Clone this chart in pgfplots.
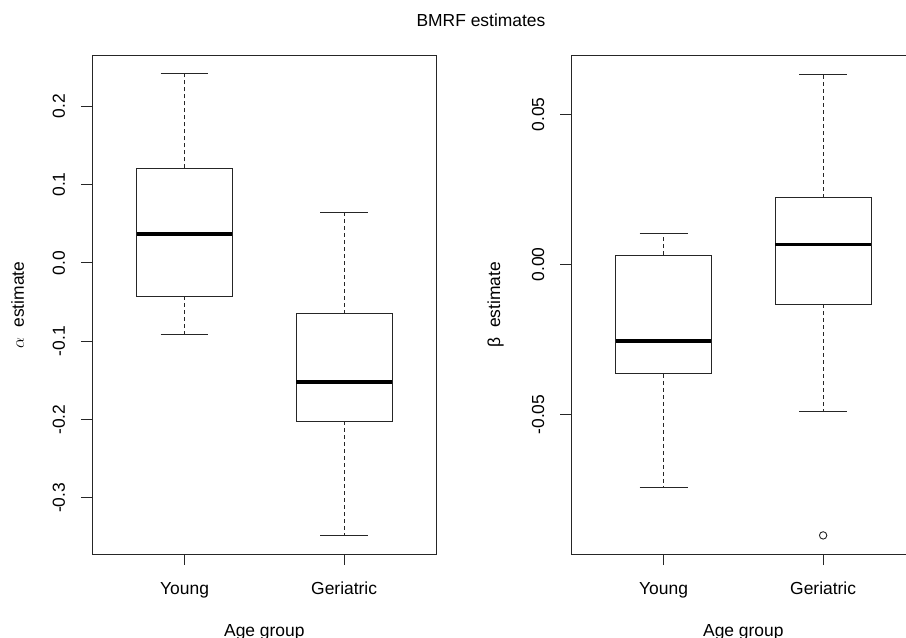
\documentclass[border=0pt]{standalone}
\usepackage{pgfplots}
\pgfplotsset{compat=1.18}
\usepackage{fontspec}
\setmainfont{Liberation Sans}
\newcommand{\rf}{\fontsize{17.5}{21}\selectfont}
\definecolor{rline}{gray}{0.15}
\pgfplotsset{
  rpanel/.style={
    scale only axis, width=344.7bp, height=498.3bp,
    anchor=south west,
    xmin=0.42, xmax=2.58,
    xtick={1,2}, xticklabels={Young,Geriatric},
    scaled y ticks=false,
    tick pos=left, tick align=outside, major tick length=11bp,
    axis line style={line width=1bp, rline},
    every tick/.style={line width=1bp, rline},
    tick label style={font=\rf},
    xticklabel style={anchor=base, inner sep=0pt, yshift=-29bp},
    yticklabel style={xshift=-16bp, rotate=90, anchor=base, inner sep=0pt},
    xlabel={Age group},
    every axis x label/.style={at={([yshift=-82bp]axis description cs:0.5,0)}, anchor=base, inner sep=0pt, font=\rf},
    clip=false,
  },
  boxln/.style={rline, line width=1bp, line join=miter},
  whisk/.style={rline, line width=1bp, dash pattern=on 4bp off 3bp},
  cap/.style={rline, line width=1bp},
  med/.style={black, line width=3.6bp},
}
\begin{document}
\begin{tikzpicture}
\useasboundingbox (0,0) rectangle (906bp,638bp);
\node[anchor=base, font=\rf, inner sep=0pt] at (481bp,611.5bp) {BMRF estimates};

% Left panel: alpha
\begin{axis}[rpanel, at={(92bp,84bp)},
  ymin=-0.3716, ymax=0.2645,
  ytick={-0.3,-0.2,-0.1,0,0.1,0.2},
  yticklabels={-0.3,-0.2,-0.1,0.0,0.1,0.2},
  ylabel={$\alpha$\ \ estimate},
  every axis y label/.style={at={([xshift=-68bp]axis description cs:0,0.5)}, rotate=90, anchor=base, inner sep=0pt, font=\rf},
]
% Young: lw -0.0914, q1 -0.0425, med 0.0367, q3 0.1206, uw 0.2414
\addplot[whisk] coordinates {(1,0.1206) (1,0.2414)};
\addplot[whisk] coordinates {(1,-0.0425) (1,-0.0914)};
\addplot[cap] coordinates {(0.85,0.2414) (1.15,0.2414)};
\addplot[cap] coordinates {(0.85,-0.0914) (1.15,-0.0914)};
\addplot[boxln] coordinates {(0.7,-0.0425) (1.3,-0.0425) (1.3,0.1206) (0.7,0.1206) (0.7,-0.0425)} -- cycle;
\addplot[med] coordinates {(0.7,0.0367) (1.3,0.0367)};
% Geriatric: lw -0.348, q1 -0.2022, med -0.152, q3 -0.0646, uw 0.0647
\addplot[whisk] coordinates {(2,-0.0646) (2,0.0647)};
\addplot[whisk] coordinates {(2,-0.2022) (2,-0.348)};
\addplot[cap] coordinates {(1.85,0.0647) (2.15,0.0647)};
\addplot[cap] coordinates {(1.85,-0.348) (2.15,-0.348)};
\addplot[boxln] coordinates {(1.7,-0.2022) (2.3,-0.2022) (2.3,-0.0646) (1.7,-0.0646) (1.7,-0.2022)} -- cycle;
\addplot[med] coordinates {(1.7,-0.152) (2.3,-0.152)};
\end{axis}

% Right panel: beta
\begin{axis}[rpanel, at={(571bp,84bp)},
  ymin=-0.0965, ymax=0.0696,
  ytick={-0.05,0,0.05},
  yticklabels={-0.05,0.00,0.05},
  ylabel={β\ \ estimate},
  every axis y label/.style={at={([xshift=-71bp]axis description cs:0,0.5)}, rotate=90, anchor=base, inner sep=0pt, font=\rf},
]
% Young: lw -0.0743, q1 -0.0365, med -0.0256, q3 0.0031, uw 0.0104
\addplot[whisk] coordinates {(1,0.0031) (1,0.0104)};
\addplot[whisk] coordinates {(1,-0.0365) (1,-0.0743)};
\addplot[cap] coordinates {(0.85,0.0104) (1.15,0.0104)};
\addplot[cap] coordinates {(0.85,-0.0743) (1.15,-0.0743)};
\addplot[boxln] coordinates {(0.7,-0.0365) (1.3,-0.0365) (1.3,0.0031) (0.7,0.0031) (0.7,-0.0365)} -- cycle;
\addplot[med] coordinates {(0.7,-0.0256) (1.3,-0.0256)};
% Geriatric: lw -0.0491, q1 -0.0132, med 0.00665, q3 0.0222, uw 0.0634, outlier -0.0903
\addplot[whisk] coordinates {(2,0.0222) (2,0.0634)};
\addplot[whisk] coordinates {(2,-0.0132) (2,-0.0491)};
\addplot[cap] coordinates {(1.85,0.0634) (2.15,0.0634)};
\addplot[cap] coordinates {(1.85,-0.0491) (2.15,-0.0491)};
\addplot[boxln] coordinates {(1.7,-0.0132) (2.3,-0.0132) (2.3,0.0222) (1.7,0.0222) (1.7,-0.0132)} -- cycle;
\addplot[med] coordinates {(1.7,0.00665) (2.3,0.00665)};
\addplot[only marks, mark=o, mark size=3.7bp, mark options={rline, line width=0.9bp, solid}] coordinates {(2,-0.0903)};
\end{axis}
\end{tikzpicture}
\end{document}
